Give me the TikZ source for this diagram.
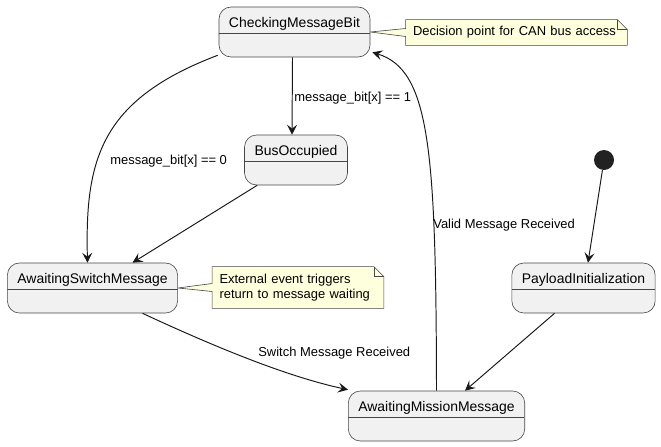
\documentclass[tikz,border=0pt]{standalone}
\usepackage{fontspec}
\setmainfont{Liberation Sans}
\usepackage{tikz}
\usetikzlibrary{arrows.meta, positioning, calc, backgrounds}
\definecolor{statefill}{HTML}{F1F1F1}
\definecolor{statedraw}{HTML}{181818}
\definecolor{notefill}{HTML}{FEFFDD}
\definecolor{linecol}{HTML}{181818}
\definecolor{dotfill}{HTML}{222222}
\newcommand{\statefont}{\fontsize{7.94pt}{9.5pt}\selectfont}
\newcommand{\lblfont}{\fontsize{7.37pt}{8.5pt}\selectfont}
\tikzset{
  stateblock/.style={rectangle, draw=statedraw!80, fill=statefill,
    rounded corners=0.24cm, line width=0.35pt, font=\statefont,
    inner xsep=0.2cm, inner ysep=0pt, text height=0.4cm, text depth=0.6cm,
    path picture={\draw[statedraw!80, line width=0.35pt]
      ([yshift=-0.52cm]path picture bounding box.north west) --
      ([yshift=-0.52cm]path picture bounding box.north east);}},
  notebox/.style={rectangle, font=\lblfont, align=left,
    inner xsep=0.14cm, inner ysep=0pt},
  noteshape/.style={draw=statedraw!80, fill=notefill, line width=0.35pt},
  initdot/.style={circle, fill=dotfill, minimum size=0.4cm, inner sep=0pt},
  lbl/.style={font=\lblfont, inner sep=0pt, anchor=west},
  arrow/.style={-{Stealth[length=0.2cm, width=0.2cm, inset=0.08cm]},
    line width=0.55pt, color=linecol}
}

\begin{document}
\begin{tikzpicture}[x=0.02cm, y=-0.02cm]
  \useasboundingbox (0,0) rectangle (661,446);

  % States
  \node[stateblock] (check) at (294.5,32) {CheckingMessageBit};
  \node[stateblock] (bus) at (296,160) {BusOccupied};
  \node[stateblock] (sw) at (92.5,288) {AwaitingSwitchMessage};
  \node[stateblock] (mis) at (436.5,416) {AwaitingMissionMessage};
  \node[stateblock] (pay) at (583.5,288) {PayloadInitialization};
  \node[initdot] (init) at (604,160) {};

  % Notes
  \node[notebox, text width=4.14cm, minimum height=0.5cm] (n1) at (516.5,32.5)
    {Decision point for CAN bus access};
  \node[notebox, text width=3.14cm, minimum height=0.82cm] (n2) at (298,287.5)
    {External event triggers\\return to message waiting};

  \begin{scope}[on background layer]
    \filldraw[noteshape] (n1.north west) -- ($(n1.north east)+(-10,0)$)
      -- ($(n1.north east)+(0,10)$) -- (n1.south east) -- (n1.south west)
      -- ($(n1.west)+(0,4)$) -- (check.east) -- ($(n1.west)+(0,-4)$) -- cycle;
    \draw[noteshape, fill=none] ($(n1.north east)+(-10,0)$) |- ($(n1.north east)+(0,10)$);
    \filldraw[noteshape] (n2.north west) -- ($(n2.north east)+(-10,0)$)
      -- ($(n2.north east)+(0,10)$) -- (n2.south east) -- (n2.south west)
      -- ($(n2.west)+(0,4)$) -- (sw.east) -- ($(n2.west)+(0,-4)$) -- cycle;
    \draw[noteshape, fill=none] ($(n2.north east)+(-10,0)$) |- ($(n2.north east)+(0,10)$);
  \end{scope}

  % Transitions
  \draw[arrow] ($(check.south west)+(-1,-2)$) .. controls (100,100) and (85,160) .. ($(sw.north)+(-5,0)$);
  \draw[arrow] ($(check.south)+(-2,0)$) -- ($(bus.north)+(-4,0)$);
  \draw[arrow] ($(bus.south west)+(13,0)$) -- ($(sw.north)+(40,0)$);
  \draw[arrow] ($(sw.south)+(50,0)$) .. controls (200,340) and (280,375) .. ($(mis.north west)+(0,-1)$);
  \draw[arrow] (mis.north) .. controls (436,150) and (430,70) .. ($(check.south east)+(2,-5)$);
  \draw[arrow] (init) -- ($(pay.north)+(4.5,0)$);
  \draw[arrow] ($(pay.south west)+(43,0)$) -- ($(mis.north)+(28.5,0)$);

  % Transition labels
  \node[lbl] (l0) at (110,161) {message\_bit[x] == 0};
  \node[lbl] (l1) at (294,98) {message\_bit[x] == 1};
  \node[lbl] (l2) at (258,353) {Switch Message Received};
  \node[lbl] (l3) at (433,225) {Valid Message Received};
\end{tikzpicture}
\end{document}
